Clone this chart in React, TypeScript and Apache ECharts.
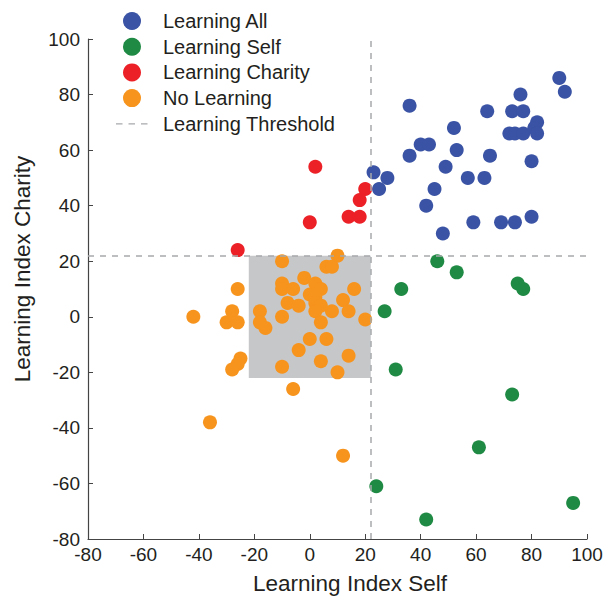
import React, { useEffect, useRef } from "react";
import * as echarts from "echarts";

const learningAll: number[][] = [
  [90, 86], [92, 81], [76, 80], [36, 76], [64, 74], [73, 74], [77, 74], [82, 70],
  [52, 68], [72, 66], [74, 66], [77, 66], [81, 68], [82, 66], [40, 62], [43, 62],
  [36, 58], [53, 60], [65, 58], [80, 56], [49, 54], [57, 50], [63, 50], [23, 52],
  [28, 50], [25, 46], [45, 46], [42, 40], [59, 34], [69, 34], [74, 34], [80, 36], [48, 30],
];
const learningSelf: number[][] = [
  [46, 20], [53, 16], [33, 10], [75, 12], [77, 10], [27, 2], [31, -19], [73, -28],
  [61, -47], [24, -61], [42, -73], [95, -67],
];
const learningCharity: number[][] = [
  [2, 54], [20, 46], [18, 42], [14, 36], [18, 36], [0, 34], [-26, 24],
];
const noLearning: number[][] = [
  [10, 22], [-10, 20], [6, 18], [8, 18], [-2, 14], [-10, 12], [-10, 10], [-6, 10],
  [2, 12], [4, 10], [16, 10], [0, 8], [2, 7], [12, 6], [-8, 5], [-4, 4], [2, 5], [4, 4],
  [2, 2], [8, 2], [14, 2], [20, -1], [-10, 0], [-18, 2], [4, -2], [-42, 0], [-26, 10],
  [-28, 2], [-30, -2], [-26, -2], [-18, -2], [-16, -4], [0, -8], [6, -8], [-4, -12],
  [14, -14], [4, -16], [-25, -15], [-26, -17], [-28, -19], [-10, -18], [10, -20],
  [-6, -26], [-36, -38], [12, -50],
];
const threshold = 22;
const xTicks = [-80, 100, 20];
const yTicks = [-80, 100, 20];

const dashIcon =
  "path://M0,0L0.01,0M0,18L0.01,18M0,8.4h6.5v1.3H0z M12.5,8.4h6.5v1.3h-6.5z M25,8.4h6.5v1.3h-6.5z M31.99,0L32,0";

export default function App() {
  const ref = useRef<HTMLDivElement>(null);
  useEffect(() => {
    if (!ref.current) return;
    const chart = echarts.init(ref.current, undefined, { renderer: "svg" });
    const font = "'Liberation Sans', Arial, Helvetica, sans-serif";
    const dashColor = "#a7a9ac";
    const textColor = "#231f20";
    const scatter = (name: string, data: number[][], color: string) => ({
      type: "scatter",
      name,
      data,
      symbolSize: 14,
      itemStyle: { color, opacity: 1 },
      z: 3,
    });
    const axisCommon = {
      type: "value",
      nameLocation: "middle",
      axisLine: { onZero: false, lineStyle: { color: "#444", width: 1.2 } },
      axisTick: { inside: true, length: 5, lineStyle: { color: "#444" } },
      axisLabel: { fontSize: 19, color: textColor },
      splitLine: { show: false },
    };
    chart.setOption({
      animation: false,
      textStyle: { fontFamily: font },
      grid: { left: 88, right: 17, top: 39, bottom: 57, outerBoundsMode: "none", containLabel: false },
      legend: {
        orient: "vertical",
        left: 116,
        top: 11,
        padding: 0,
        itemWidth: 32,
        itemHeight: 18,
        itemGap: 5.7,
        textStyle: { fontSize: 20, color: textColor, fontFamily: font, padding: [0, 0, 0, 10] },
        data: [
          { name: "Learning All", icon: "circle" },
          { name: "Learning Self", icon: "circle" },
          { name: "Learning Charity", icon: "circle" },
          { name: "No Learning", icon: "circle" },
          {
            name: "Learning Threshold",
            icon: dashIcon,
            itemStyle: { color: dashColor, borderWidth: 0 },
            lineStyle: { width: 0 },
          },
        ],
      },
      xAxis: {
        ...axisCommon,
        min: xTicks[0],
        max: xTicks[1],
        interval: xTicks[2],
        name: "Learning Index Self",
        nameGap: 33,
        nameTextStyle: { fontSize: 22.5, color: textColor, padding: [0, 0, 0, 25] },
        axisLabel: { ...axisCommon.axisLabel, margin: 6 },
      },
      yAxis: {
        ...axisCommon,
        min: yTicks[0],
        max: yTicks[1],
        interval: yTicks[2],
        name: "Learning Index Charity",
        nameGap: 54,
        nameTextStyle: { fontSize: 22.5, color: textColor, padding: [0, 0, 0, 40] },
        axisLabel: { ...axisCommon.axisLabel, margin: 8 },
      },
      series: [
        {
          type: "line",
          name: "Learning Threshold",
          data: [],
          symbol: "none",
          itemStyle: { color: dashColor },
          lineStyle: { color: dashColor, type: [6, 6], width: 1.5 },
          markArea: {
            silent: true,
            itemStyle: { color: "#c6c7c9" },
            data: [[{ coord: [-threshold, -threshold] }, { coord: [threshold, threshold] }]],
          },
          markLine: {
            silent: true,
            symbol: "none",
            label: { show: false },
            lineStyle: { color: dashColor, type: [6, 6], width: 1.5 },
            data: [{ xAxis: threshold }, { yAxis: threshold }],
          },
          z: 2,
        },
        scatter("Learning All", learningAll, "#3a53a4"),
        scatter("Learning Self", learningSelf, "#1f8a44"),
        scatter("Learning Charity", learningCharity, "#ec2027"),
        scatter("No Learning", noLearning, "#f7941d"),
      ],
    });
    return () => chart.dispose();
  }, []);
  return <div ref={ref} style={{ width: 604, height: 596, position: "absolute", left: 0, top: 0 }} />;
}
